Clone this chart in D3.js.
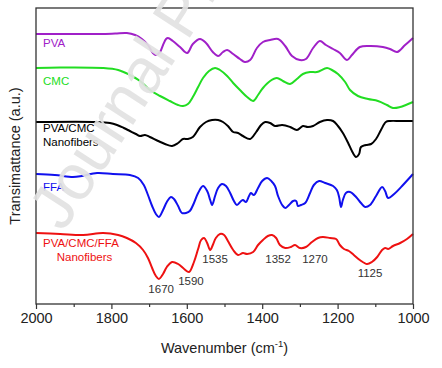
<!DOCTYPE html>
<html><head><meta charset="utf-8">
<script src="https://cdn.jsdelivr.net/npm/d3@7/dist/d3.min.js"></script>
<style>html,body{margin:0;padding:0;background:#fff;}svg{display:block;font-family:Arial,"Liberation Sans",sans-serif;}</style>
</head><body><svg id="c" width="442" height="368"></svg>
<script>
// Wavenumber (cm-1) and transmittance (a.u., offset stacked) per series
const pvaWn  = [2000,1830,1790,1759,1737,1719,1703,1690,1682,1671,1663,1655,1650,1637,1618,1599,1584,1565,1549,1531,1517,1504,1493,1477,1459,1446,1432,1414,1398,1379,1358,1339,1321,1300,1284,1265,1247,1231,1212,1194,1175,1162,1141,1114,1080,1061,1042,1021,1000];
const pvaT   = [270,270,270.5,271,269,265,259,251,249,252,259,265,266,263,257,251,260,265,261,252,248,252,254,250,245,242,244,256,262,264,265,258,248,244,245,256,263,259,255,251,244,249,257,258,257,255,252,259,266];
const cmcWn  = [2000,1936,1822,1782,1751,1724,1698,1671,1645,1623,1610,1597,1584,1570,1557,1541,1525,1512,1493,1477,1459,1440,1424,1411,1398,1379,1361,1345,1326,1308,1292,1273,1255,1228,1215,1199,1180,1167,1146,1119,1093,1069,1053,1034,1019,1000];
const cmcT   = [236,236.5,236,234,229,223,214,208,203,199,198,200,207,217,226,233,236,234,228,221,214,207,203,209,216,223,226,223,220,225,230,232,232,236,234,230,222,214,208,205,203,199,196,197,199,202];
const pcWn   = [2000,1838,1804,1785,1767,1751,1735,1724,1711,1698,1676,1658,1639,1623,1610,1597,1584,1565,1549,1533,1517,1504,1491,1477,1464,1451,1432,1416,1403,1392,1379,1366,1347,1326,1308,1292,1279,1265,1247,1228,1212,1199,1186,1172,1162,1151,1143,1138,1125,1111,1098,1085,1072,1061,1034,1000];
const pcT    = [182,182,181,179,176,173,170,168,169,167,163,160,158,161,165,165,167,177,182,184,184,182,178,172,171,168,165,172,179,182,181,178,179,177,174,178,177,178,182,184,183,178,171,161,153,147,150,157,159,160,165,174,182,183,183,183];
const ffaWn  = [2000,1950,1902,1878,1838,1796,1751,1729,1714,1703,1692,1682,1674,1663,1653,1642,1634,1623,1613,1602,1592,1581,1570,1557,1546,1538,1533,1525,1517,1507,1496,1485,1475,1467,1456,1451,1443,1435,1430,1422,1411,1400,1387,1376,1366,1358,1347,1339,1329,1318,1310,1305,1297,1286,1273,1263,1249,1233,1212,1202,1196,1191,1186,1178,1167,1151,1138,1127,1114,1098,1082,1074,1066,1050,1029,1000];
const ffaT   = [130,129,127,128,131,130,129,126,119,109,98,90,87,94,102,107,105,98,91,91,93,101,111,118,113,104,99,108,116,120,118,111,103,99,103,104,102,108,111,109,116,123,126,123,118,108,99,96,99,103,103,98,99,101,111,119,123,121,118,114,107,97,104,111,112,107,101,97,99,108,117,113,106,110,118,130];
const pcfWn  = [2000,1936,1875,1822,1782,1759,1735,1716,1703,1692,1682,1674,1663,1653,1639,1623,1607,1594,1581,1570,1562,1554,1546,1538,1531,1523,1512,1501,1491,1477,1464,1451,1440,1424,1411,1398,1385,1374,1363,1353,1339,1324,1313,1300,1284,1268,1252,1239,1220,1204,1194,1183,1170,1157,1141,1122,1109,1095,1082,1074,1066,1053,1034,1016,1000];
const pcfT   = [71,70,69,71,69,66,61,54,46,36,28,25,30,37,42,40,35,32,42,55,64,66,61,54,59,66,70,69,63,54,49,51,50,52,59,64,68,69,66,59,56,57,59,56,57,62,66,67,66,65,59,55,53,49,44,40,42,47,54,56,55,58,61,65,70];

const seriesNames  = ["PVA","CMC","PVA/CMC Nanofibers","FFA","PVA/CMC/FFA Nanofibers"];
const seriesColors = ["#a020c8","#22dd22","#000000","#1010ee","#ee1111"];
const labelT       = [261,223,170,117,55];   // label centre level (a.u.)
const peakLabels   = ["1670","1590","1535","1352","1270","1125"];
const peakWn       = [1668,1589,1525,1358,1260,1114];
const peakT        = [15,23,45,45,45,31];
const xTicks       = [2000,1800,1600,1400,1200,1000];
const xMinor       = [1900,1700,1500,1300,1100];

const svg = d3.select("#c");
const L=36,R=413,T=8,B=304;
const x = d3.scaleLinear().domain([2000,1000]).range([L,R]);
const y = d3.scaleLinear().domain([0,296]).range([B,T]);

const series = [[pvaWn,pvaT],[cmcWn,cmcT],[pcWn,pcT],[ffaWn,ffaT],[pcfWn,pcfT]];
const line = d3.line().x(d=>x(d[0])).y(d=>y(d[1])).curve(d3.curveCatmullRom.alpha(0.5));
series.forEach((s,i)=>{
  const pts = s[0].map((w,j)=>[w,s[1][j]]);
  svg.append("path").attr("d",line(pts)).attr("fill","none")
    .attr("stroke",seriesColors[i]).attr("stroke-width",2).attr("stroke-linejoin","round");
});

// series labels
seriesNames.forEach((n,i)=>{
  const parts = n.split(" ");
  const t = svg.append("text").attr("fill",seriesColors[i]).attr("font-size",11.5);
  if(parts.length===1){
    t.attr("x",x(2000)+7).attr("y",y(labelT[i])).attr("dy","0.35em").text(n);
  } else {
    const multi = i===4;
    t.attr("x",x(2000)+7).attr("y",y(labelT[i])).attr("dy","-0.15em").text(parts[0]);
    const w = multi ? 83 : 0;
    svg.append("text").attr("fill",seriesColors[i]).attr("font-size",11.5)
      .attr("x", multi ? x(2000)+7+w/2 : x(2000)+7)
      .attr("text-anchor", multi ? "middle" : "start")
      .attr("y",y(labelT[i])).attr("dy","1.05em").text(parts[1]);
  }
});

// peak annotations
peakLabels.forEach((p,i)=>{
  svg.append("text").attr("x",x(peakWn[i])).attr("y",y(peakT[i])).attr("dy","0.35em")
    .attr("text-anchor","middle").attr("font-size",11.5).attr("fill","#333").text(p);
});

// frame
svg.append("rect").attr("x",L).attr("y",T).attr("width",R-L).attr("height",B-T)
  .attr("fill","none").attr("stroke","#333").attr("stroke-width",1.3);

// x axis
const ax = svg.append("g").attr("transform",`translate(0,${B})`)
  .call(d3.axisBottom(x).tickValues(xTicks).tickFormat(d3.format("d")).tickSize(5).tickPadding(4));
ax.select(".domain").remove();
ax.selectAll("text").attr("font-size",14.5).attr("fill","#222").attr("font-family","Arial,'Liberation Sans',sans-serif");
ax.selectAll("line").attr("stroke","#333").attr("stroke-width",1.2);
svg.append("g").attr("transform",`translate(0,${B})`)
  .call(d3.axisBottom(x).tickValues(xMinor).tickFormat("").tickSize(3))
  .call(g=>{g.select(".domain").remove(); g.selectAll("line").attr("stroke","#333").attr("stroke-width",1.2);});

// titles
const xt = svg.append("text").attr("x",(L+R)/2).attr("y",353).attr("text-anchor","middle")
  .attr("font-size",14.5).attr("fill","#222");
xt.append("tspan").text("Wavenumber (cm");
xt.append("tspan").attr("font-size",9.5).attr("dy",-6).text("-1");
xt.append("tspan").attr("dy",6).text(")");
svg.append("text").attr("transform",`translate(20,${(T+B)/2}) rotate(-90)`)
  .attr("text-anchor","middle").attr("font-size",14.5).attr("fill","#222").text("Transimattance (a.u.)");

// watermark
svg.append("text").attr("transform","translate(63,233) rotate(-57)")
  .attr("font-size",64).attr("fill","#e2e2e2").attr("opacity",0.92).text("Journal Pre-proof");
</script></body></html>
